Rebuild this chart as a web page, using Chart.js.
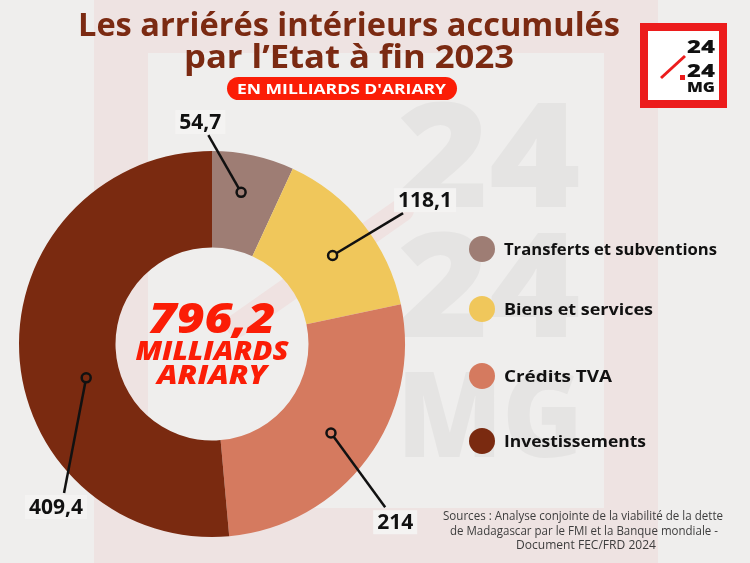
<!DOCTYPE html>
<html>
<head>
<meta charset="utf-8">
<script src="https://cdn.jsdelivr.net/npm/chart.js@4/dist/chart.umd.min.js"></script>
<style>
  html, body { margin: 0; padding: 0; background: #efeeed; }
  #c { display: block; }
</style>
</head>
<body>
<canvas id="c" width="750" height="563"></canvas>
<script>
// data
const categories = ['Transferts et subventions', 'Biens et services', 'Crédits TVA', 'Investissements'];
const values = [54.7, 118.1, 214, 409.4];
const valueLabels = ['54,7', '118,1', '214', '409,4'];
const totalLabel = '796,2';
const colors = ['#9e7d74', '#f0c75b', '#d57a5f', '#7a2a10'];

// layout of the callouts: dot angle shift (deg), dot position in ring (0..1),
// line end angle from top (deg), line end radius (x outer radius), text offset
const callouts = [
  { shift: -1.5, ring: 0.6, endAngle: 359, endR: 1.083, dx: -8, dy: -13 },
  { shift: 2.3, ring: 0.55, endAngle: 55.6, endR: 1.20, dx: 22, dy: -13 },
  { shift: 0.3, ring: 0.54, endAngle: 133.3, endR: 1.233, dx: 10, dy: 15 },
  { shift: -12.5, ring: 0.35, endAngle: 224.8, endR: 1.088, dx: -8, dy: 14 }
];
const legendY = [249, 309, 376, 441];
const legendW = [213, 149, 108, 142];

const BOLD = '"Open Sans", "Noto Sans", sans-serif';

// draw text at x (centre or left), stretched to a given width
function fitText(ctx, text, x, y, width, font, color, align) {
  ctx.save();
  ctx.font = font;
  ctx.fillStyle = color;
  ctx.textAlign = align || 'center';
  ctx.textBaseline = 'alphabetic';
  const w = ctx.measureText(text).width;
  ctx.translate(x, y);
  ctx.scale(width / w, 1);
  ctx.fillText(text, 0, 0);
  ctx.restore();
}

const backdrop = {
  id: 'backdrop',
  beforeDraw(chart) {
    const ctx = chart.ctx;
    ctx.save();
    ctx.fillStyle = '#efeeed';
    ctx.fillRect(0, 0, 750, 563);
    // faded logo frame
    ctx.fillStyle = '#eee3e2';
    ctx.fillRect(94, 0, 564, 563);
    ctx.fillStyle = '#efeeed';
    ctx.fillRect(148, 53, 456, 455);
    // faded slash
    ctx.strokeStyle = '#efe2e1';
    ctx.lineWidth = 24;
    ctx.lineCap = 'round';
    ctx.beginPath();
    ctx.moveTo(402, 210);
    ctx.lineTo(238, 325);
    ctx.stroke();
    // big watermark letters
    fitText(ctx, '24', 489, 207, 183, '800 145px ' + BOLD, '#e5e4e3');
    fitText(ctx, '24', 489, 337, 183, '800 145px ' + BOLD, '#e5e4e3');
    fitText(ctx, 'MG', 490, 457, 186, '800 118px ' + BOLD, '#e5e4e3');
    ctx.restore();
  }
};

const callout = {
  id: 'callout',
  afterDatasetsDraw(chart) {
    const ctx = chart.ctx;
    const arcs = chart.getDatasetMeta(0).data;
    ctx.save();
    arcs.forEach((arc, i) => {
      const c = callouts[i];
      const mid = (arc.startAngle + arc.endAngle) / 2 + c.shift * Math.PI / 180;
      const r = arc.innerRadius + c.ring * (arc.outerRadius - arc.innerRadius);
      const px = arc.x + Math.cos(mid) * r;
      const py = arc.y + Math.sin(mid) * r;
      const ea = (c.endAngle - 90) * Math.PI / 180;
      const ex = arc.x + Math.cos(ea) * arc.outerRadius * c.endR;
      const ey = arc.y + Math.sin(ea) * arc.outerRadius * c.endR;
      ctx.strokeStyle = '#111';
      ctx.lineWidth = 2.5;
      ctx.beginPath();
      ctx.moveTo(px, py);
      ctx.lineTo(ex, ey);
      ctx.stroke();
      ctx.beginPath();
      ctx.arc(px, py, 4.5, 0, Math.PI * 2);
      ctx.fillStyle = colors[i];
      ctx.fill();
      ctx.stroke();
      // label
      ctx.font = 'bold 21px ' + BOLD;
      const w = ctx.measureText(valueLabels[i]).width;
      const tx = ex + c.dx, ty = ey + c.dy;
      ctx.fillStyle = '#f4f3f2';
      ctx.fillRect(tx - w / 2 - 4, ty - 12, w + 8, 24);
      ctx.fillStyle = '#111';
      ctx.textAlign = 'center';
      ctx.textBaseline = 'middle';
      ctx.fillText(valueLabels[i], tx, ty + 1);
    });
    ctx.restore();
  }
};

const decor = {
  id: 'decor',
  afterDraw(chart) {
    const ctx = chart.ctx;
    ctx.save();
    // title
    fitText(ctx, 'Les arriérés intérieurs accumulés', 349, 36, 542, 'bold 32px ' + BOLD, '#7b2a12');
    fitText(ctx, 'par l’Etat à fin 2023', 349, 68, 330, 'bold 32px ' + BOLD, '#7b2a12');
    // pill
    ctx.fillStyle = '#fb1d06';
    ctx.beginPath();
    ctx.roundRect(227, 77, 230, 23, 11.5);
    ctx.fill();
    fitText(ctx, "EN MILLIARDS D'ARIARY", 341.5, 94, 209, 'bold 15px ' + BOLD, '#ffffff');

    // logo
    ctx.fillStyle = '#ec1c1c';
    ctx.fillRect(640, 23, 87, 85);
    ctx.fillStyle = '#ffffff';
    ctx.fillRect(648, 31, 71, 69);
    ctx.strokeStyle = '#ec1c1c';
    ctx.lineWidth = 3;
    ctx.beginPath();
    ctx.moveTo(661, 78);
    ctx.lineTo(685, 56);
    ctx.stroke();
    ctx.fillStyle = '#ec1c1c';
    ctx.fillRect(680, 75, 5, 5);
    fitText(ctx, '24', 701, 53, 28, '800 18px ' + BOLD, '#111');
    fitText(ctx, '24', 701, 77, 28, '800 18px ' + BOLD, '#111');
    fitText(ctx, 'MG', 701, 92, 28, '800 14px ' + BOLD, '#111');

    // centre total
    const meta = chart.getDatasetMeta(0).data[0];
    const cx = meta.x;
    fitText(ctx, totalLabel, cx, 333, 127, 'italic 800 43px ' + BOLD, '#fb1d06');
    fitText(ctx, 'MILLIARDS', cx, 360, 153, 'italic 800 26px ' + BOLD, '#fb1d06');
    fitText(ctx, 'ARIARY', cx, 384, 110, 'italic 800 26px ' + BOLD, '#fb1d06');

    // legend
    categories.forEach((name, i) => {
      ctx.beginPath();
      ctx.arc(482, legendY[i], 13, 0, Math.PI * 2);
      ctx.fillStyle = colors[i];
      ctx.fill();
      fitText(ctx, name, 504, legendY[i] + 6, legendW[i], 'bold 16px ' + BOLD, '#111', 'left');
    });

    // sources
    const src = 'normal 12px ' + BOLD;
    fitText(ctx, 'Sources : Analyse conjointe de la viabilité de la dette', 583, 520, 280, src, '#3d3d3d');
    fitText(ctx, 'de Madagascar par le FMI et la Banque mondiale -', 584, 534.5, 268, src, '#3d3d3d');
    fitText(ctx, 'Document FEC/FRD 2024', 586, 549, 140, src, '#3d3d3d');
    ctx.restore();
  }
};

new Chart(document.getElementById('c'), {
  type: 'doughnut',
  data: {
    labels: categories,
    datasets: [{
      data: values,
      backgroundColor: colors,
      borderWidth: 0,
      hoverOffset: 0
    }]
  },
  options: {
    responsive: false,
    animation: false,
    events: [],
    devicePixelRatio: 1,
    cutout: '50%',
    layout: { padding: { left: 19, right: 345, top: 151, bottom: 26 } },
    plugins: {
      legend: { display: false },
      tooltip: { enabled: false },
      title: { display: false }
    }
  },
  plugins: [backdrop, callout, decor]
});
</script>
</body>
</html>
